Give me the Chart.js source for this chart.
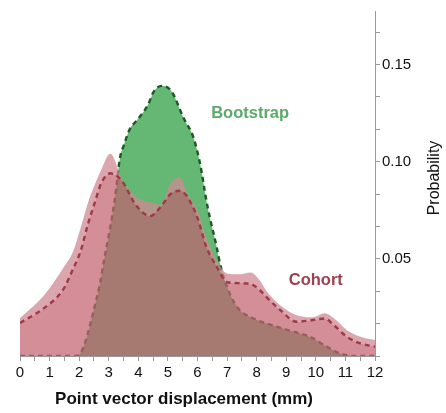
<!DOCTYPE html>
<html>
<head>
<meta charset="utf-8">
<script src="https://cdn.jsdelivr.net/npm/chart.js@4/dist/chart.umd.min.js"></script>
<style>
  body { margin: 0; background: #fff; }
  #wrap { width: 446px; height: 413px; position: relative; }
</style>
</head>
<body>
<div id="wrap"><canvas id="chart"></canvas></div>
<script>
// DATA
const cohortX = [0, 0.8, 1.45, 1.8, 2.05, 2.3, 2.55, 2.75, 3.05, 3.45, 3.9, 4.4, 4.75, 5.1, 5.4, 5.65, 6.0, 6.3, 6.65, 7.0, 7.4, 7.8, 8.1, 8.35, 8.8, 9.35, 9.9, 10.3, 10.6, 11.05, 11.5, 12];
const cohortMean = [0.017, 0.0245, 0.034, 0.045, 0.054, 0.068, 0.080, 0.089, 0.094, 0.090, 0.078, 0.072, 0.0766, 0.0835, 0.085, 0.082, 0.071, 0.056, 0.046, 0.038, 0.0375, 0.037, 0.034, 0.030, 0.0236, 0.0176, 0.0185, 0.0193, 0.016, 0.0099, 0.0065, 0.0048];
const cohortUpper = [0.0195, 0.031, 0.045, 0.054, 0.066, 0.079, 0.089, 0.096, 0.104, 0.091, 0.082, 0.079, 0.078, 0.089, 0.092, 0.0835, 0.075, 0.061, 0.049, 0.0425, 0.042, 0.043, 0.039, 0.033, 0.026, 0.021, 0.020, 0.022, 0.0195, 0.0133, 0.0099, 0.0082];

const bootX = [0, 1.9, 2.1, 2.3, 2.5, 2.7, 2.85, 3.0, 3.2, 3.38, 3.5, 3.72, 3.94, 4.34, 4.5, 4.79, 5.13, 5.52, 5.86, 6.1, 6.3, 6.42, 6.65, 6.76, 7.0, 7.33, 7.9, 8.7, 9.25, 9.8, 10.35, 10.8, 11.3, 12];
const bootMean = [0, 0, 0.003, 0.012, 0.024, 0.037, 0.05, 0.062, 0.08, 0.102, 0.108, 0.117, 0.121, 0.1296, 0.1355, 0.139, 0.136, 0.1227, 0.1125, 0.098, 0.080, 0.071, 0.056, 0.0475, 0.0355, 0.0253, 0.0193, 0.015, 0.0125, 0.0099, 0.005, 0.0014, 0, 0];

const xTicks = [0, 1, 2, 3, 4, 5, 6, 7, 8, 9, 10, 11, 12];
const yTickLabels = [0.05, 0.10, 0.15];

const seriesLabelText = ["Bootstrap", "Cohort"];
const seriesLabelX = [7.78, 10.0];
const seriesLabelY = [0.125, 0.039];

const FONT = "'Liberation Sans', Arial, Helvetica, sans-serif";

function pts(xs, ys) {
  return xs.map((x, i) => ({ x, y: ys[i] }));
}

// TEXT (titles + series labels)
const textPlugin = {
  id: "texts",
  afterDraw(chart) {
    const { ctx, scales } = chart;
    ctx.save();
    ctx.textAlign = "center";
    ctx.textBaseline = "middle";

    ctx.font = "bold 16.5px " + FONT;
    const colors = ["#5aaa69", "#a0404e"];
    seriesLabelText.forEach((t, i) => {
      ctx.fillStyle = colors[i];
      ctx.fillText(t, scales.x.getPixelForValue(seriesLabelX[i]), scales.y.getPixelForValue(seriesLabelY[i]));
    });

    ctx.fillStyle = "#111";
    ctx.font = "bold 17px " + FONT;
    ctx.fillText("Point vector displacement (mm)", 184, 399);

    ctx.font = "16px " + FONT;
    ctx.translate(435, 178);
    ctx.rotate(-Math.PI / 2);
    ctx.fillText("Probability", 0, 0);
    ctx.restore();
  }
};

new Chart(document.getElementById("chart"), {
  type: "line",
  data: {
    datasets: [
      {
        label: "Cohort",
        data: pts(cohortX, cohortMean),
        borderColor: "#9e3a48",
        borderWidth: 2.4,
        borderDash: [5, 4],
        backgroundColor: "rgba(194,98,112,0.72)",
        fill: "origin",
        order: 1
      },
      {
        label: "Cohort band",
        data: pts(cohortX, cohortUpper),
        borderWidth: 0,
        borderColor: "rgba(0,0,0,0)",
        backgroundColor: "rgba(208,136,148,0.75)",
        fill: "-1",
        order: 2
      },
      {
        label: "Bootstrap",
        data: pts(bootX, bootMean),
        borderColor: "#1c5a24",
        borderWidth: 2.4,
        borderDash: [5, 4],
        backgroundColor: "rgba(88,178,104,0.92)",
        fill: "origin",
        order: 3
      }
    ]
  },
  options: {
    responsive: true,
    maintainAspectRatio: false,
    animation: false,
    layout: { padding: { left: 20, top: 1, right: 0, bottom: 0 } },
    elements: {
      point: { radius: 0 },
      line: { cubicInterpolationMode: "monotone" }
    },
    plugins: {
      legend: { display: false },
      tooltip: { enabled: false }
    },
    scales: {
      x: {
        type: "linear",
        min: 0,
        max: 12,
        afterFit: s => { s.height = 57; },
        ticks: {
          stepSize: 0.5,
          autoSkip: false,
          maxRotation: 0,
          padding: 3,
          color: "#111",
          font: { family: FONT, size: 15 },
          callback: v => xTicks.includes(v) ? String(v) : ""
        },
        grid: { drawOnChartArea: false, tickLength: 5, color: "#999" },
        border: { color: "#999" }
      },
      y: {
        position: "right",
        min: 0,
        max: 0.1775,
        afterFit: s => { s.width = 71; },
        ticks: {
          stepSize: 0.05 / 3,
          includeBounds: false,
          padding: 2,
          color: "#111",
          font: { family: FONT, size: 15 },
          callback: v => {
            const hit = yTickLabels.find(t => Math.abs(t - v) < 1e-6);
            return hit ? hit.toFixed(2) : "";
          }
        },
        grid: { drawOnChartArea: false, tickLength: 5, color: "#999" },
        border: { color: "#999" }
      }
    }
  },
  plugins: [textPlugin]
});
</script>
</body>
</html>
